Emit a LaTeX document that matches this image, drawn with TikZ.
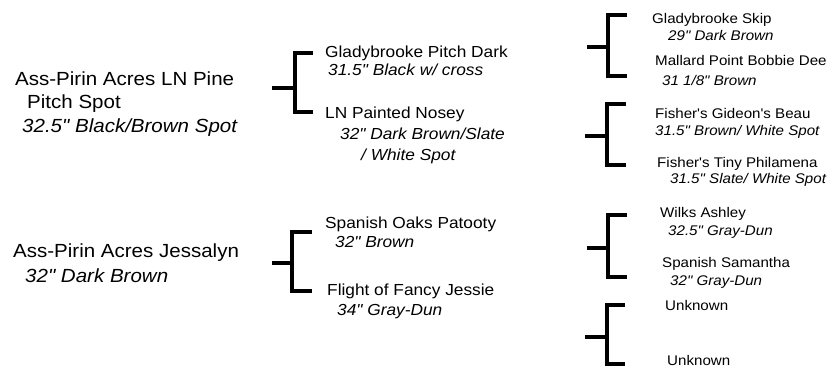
\documentclass[tikz,border=0pt]{standalone}
\usepackage{fontspec}
\setmainfont{Liberation Sans}[FakeStretch=1.08, Ligatures=TeXOff]
\usetikzlibrary{positioning}

\begin{document}
\begin{tikzpicture}
    [x=1pt,y=-1pt,
horse1/.style={anchor=base west, inner sep=0pt, font=\fontsize{19}{23}\selectfont},
coat1/.style={horse1, font=\fontsize{19}{23}\selectfont\itshape},
horse2/.style={anchor=base west, inner sep=0pt, font=\fontsize{16}{19}\selectfont},
coat2/.style={horse2, font=\fontsize{16}{19}\selectfont\itshape},
horse3/.style={anchor=base west, inner sep=0pt, font=\fontsize{14}{17}\selectfont},
coat3/.style={horse3, font=\fontsize{14}{17}\selectfont\itshape},
bracketline/.style={line width=3.4pt, line join=miter}
]

\useasboundingbox (0,0) rectangle (832,367);

% generation 1
\node[horse1](sire)at(15,85){Ass-Pirin Acres LN Pine};
\node[horse1](sireb)at([xshift=12pt,yshift=-23pt]sire.base west){Pitch Spot};
\node[coat1](sirec)at([xshift=7pt,yshift=-47pt]sire.base west){32.5" Black/Brown Spot};

\node[horse1](dam)at(13,257){Ass-Pirin Acres Jessalyn};
\node[coat1](damc)at([xshift=12pt,yshift=-25pt]dam.base west){32" Dark Brown};

% generation 2
\node[horse2](gsire1)at(325,57){Gladybrooke Pitch Dark};
\node[coat2](gsire1c)at([xshift=3pt,yshift=-18pt]gsire1.base west){31.5" Black w/ cross};
\node[horse2](gdam1)at(325,118){LN Painted Nosey};
\node[coat2](gdam1c)at([xshift=15pt,yshift=-21pt]gdam1.base west){32" Dark Brown/Slate};
\node[coat2](gdam1d)at([xshift=36pt,yshift=-42pt]gdam1.base west){/ White Spot};

\node[horse2](gsire2)at(325,228){Spanish Oaks Patooty};
\node[coat2](gsire2c)at([xshift=10pt,yshift=-19pt]gsire2.base west){32" Brown};
\node[horse2](gdam2)at(327,295){Flight of Fancy Jessie};
\node[coat2](gdam2c)at([xshift=10pt,yshift=-20pt]gdam2.base west){34" Gray-Dun};

% generation 3
\node[horse3](ggs1)at(652,23){Gladybrooke Skip};
\node[coat3](ggs1c)at([xshift=16pt,yshift=-17pt]ggs1.base west){29" Dark Brown};
\node[horse3](ggd1)at(655,65){Mallard Point Bobbie Dee};
\node[coat3](ggd1c)at([xshift=7pt,yshift=-20pt]ggd1.base west){31 1/8" Brown};

\node[horse3](ggs2)at(655,118){Fisher's Gideon's Beau};
\node[coat3](ggs2c)at([xshift=0pt,yshift=-17pt]ggs2.base west){31.5" Brown/ White Spot};
\node[horse3](ggd2)at(657,167){Fisher's Tiny Philamena};
\node[coat3](ggd2c)at([xshift=13pt,yshift=-16pt]ggd2.base west){31.5" Slate/ White Spot};

\node[horse3](ggs3)at(660,217){Wilks Ashley};
\node[coat3](ggs3c)at([xshift=8pt,yshift=-18pt]ggs3.base west){32.5" Gray-Dun};
\node[horse3](ggd3)at(662,267){Spanish Samantha};
\node[coat3](ggd3c)at([xshift=8pt,yshift=-18pt]ggd3.base west){32" Gray-Dun};

\node[horse3](ggs4)at(665,310){Unknown};
\node[horse3](ggd4)at(667,365){Unknown};

% brackets
\coordinate(b1in)at(272,88);  \coordinate(b1v)at(295,88);
\coordinate(b1top)at(313,53); \coordinate(b1bot)at(313,112);
\coordinate(b2in)at(272,263); \coordinate(b2v)at(292,263);
\coordinate(b2top)at(312,232);\coordinate(b2bot)at(312,291);

\coordinate(b3in)at(587,47);  \coordinate(b3v)at(608,47);
\coordinate(b3top)at(627,15); \coordinate(b3bot)at(627,76);
\coordinate(b4in)at(585,136); \coordinate(b4v)at(607,136);
\coordinate(b4top)at(626,104);\coordinate(b4bot)at(626,165);
\coordinate(b5in)at(587,248); \coordinate(b5v)at(608,248);
\coordinate(b5top)at(627,215);\coordinate(b5bot)at(627,277);
\coordinate(b6in)at(585,337); \coordinate(b6v)at(607,337);
\coordinate(b6top)at(625,305);\coordinate(b6bot)at(625,364);

\draw[bracketline] (b1in) -- (b1v);
\draw[bracketline] (b1top) -- (b1top -| b1v) -- (b1bot -| b1v) -- (b1bot);
\draw[bracketline] (b2in) -- (b2v);
\draw[bracketline] (b2top) -- (b2top -| b2v) -- (b2bot -| b2v) -- (b2bot);
\draw[bracketline] (b3in) -- (b3v);
\draw[bracketline] (b3top) -- (b3top -| b3v) -- (b3bot -| b3v) -- (b3bot);
\draw[bracketline] (b4in) -- (b4v);
\draw[bracketline] (b4top) -- (b4top -| b4v) -- (b4bot -| b4v) -- (b4bot);
\draw[bracketline] (b5in) -- (b5v);
\draw[bracketline] (b5top) -- (b5top -| b5v) -- (b5bot -| b5v) -- (b5bot);
\draw[bracketline] (b6in) -- (b6v);
\draw[bracketline] (b6top) -- (b6top -| b6v) -- (b6bot -| b6v) -- (b6bot);

\end{tikzpicture}
\end{document}
